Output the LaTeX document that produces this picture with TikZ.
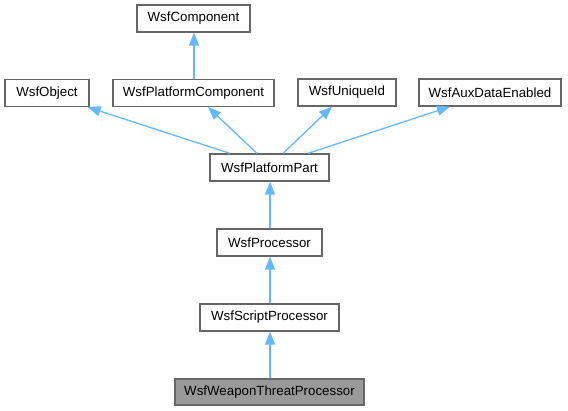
\documentclass[tikz,border=0pt]{standalone}
\usepackage{fontspec}
\setmainfont{Liberation Sans}
\usetikzlibrary{arrows.meta}
\definecolor{edgeblue}{HTML}{63B8FF}
\definecolor{boxgray}{HTML}{666666}
\definecolor{hlfill}{HTML}{999999}
\begin{document}
\begin{tikzpicture}[x=1pt,y=-1pt,
  cls/.style={draw=boxgray,line width=1.2pt,fill=white,minimum height=27pt,inner sep=0pt,
    font=\fontsize{13.3}{15}\selectfont,text=black},
  hl/.style={cls,fill=hlfill},
  edge/.style={draw=edgeblue,line width=1.3pt,-{Triangle[length=13pt,width=10pt,fill=edgeblue]}}]
\useasboundingbox (0,0) rectangle (568,411);
\node[cls,minimum width=113pt] (comp) at (193.5,18.5) {WsfComponent};
\node[cls,minimum width=84pt] (obj) at (47,93) {WsfObject};
\node[cls,minimum width=161pt] (pc) at (193.5,93) {WsfPlatformComponent};
\node[cls,minimum width=98pt] (uid) at (347,92.5) {WsfUniqueId};
\node[cls,minimum width=142pt] (aux) at (490,92.5) {WsfAuxDataEnabled};
\node[cls,minimum width=119pt] (pp) at (269.5,167.5) {WsfPlatformPart};
\node[cls,minimum width=105pt] (proc) at (269.5,242.5) {WsfProcessor};
\node[cls,minimum width=139pt] (sp) at (269.5,317.5) {WsfScriptProcessor};
\node[hl,minimum width=189pt,minimum height=26pt] (wtp) at (269.5,392) {WsfWeaponThreatProcessor};
\draw[edge] ([xshift=0.5pt]pc.north) -- ([xshift=0.5pt]comp.south);
\draw[edge] ([xshift=-39.5pt]pp.north) -- ([xshift=-2pt]obj.south east);
\draw[edge] ([xshift=-12.5pt]pp.north) -- ([xshift=14.5pt]pc.south);
\draw[edge] ([xshift=13.5pt]pp.north) -- ([xshift=-15pt]uid.south);
\draw[edge] ([xshift=38.5pt]pp.north) -- ([xshift=-40pt]aux.south);
\draw[edge] ([xshift=0.5pt]proc.north) -- ([xshift=0.5pt]pp.south);
\draw[edge] ([xshift=0.5pt]sp.north) -- ([xshift=0.5pt]proc.south);
\draw[edge] ([xshift=0.5pt]wtp.north) -- ([xshift=0.5pt]sp.south);
\end{tikzpicture}
\end{document}
